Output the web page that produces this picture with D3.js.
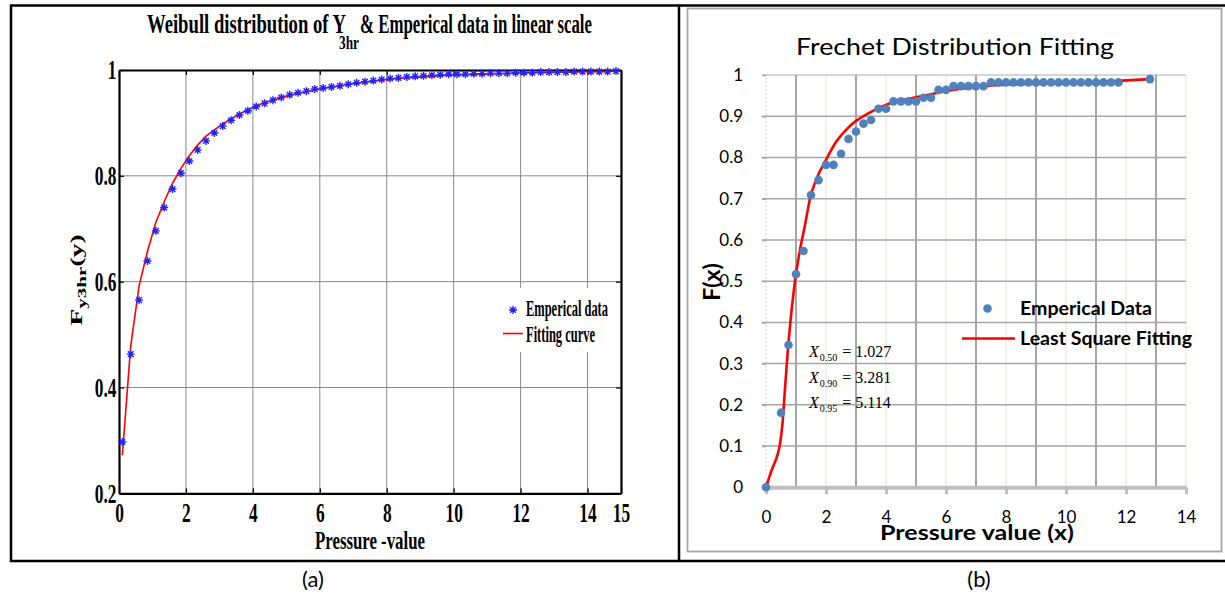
<!DOCTYPE html>
<html><head><meta charset="utf-8">
<script src="https://cdn.jsdelivr.net/npm/d3@7"></script>
<style>body{margin:0;background:#fff;} svg{display:block;}</style>
</head><body>
<script>
// ---------------- DATA ----------------
// (a) Weibull panel
const weibullX = [0.1,0.35,0.6,0.85,1.1,1.35,1.6,1.85,2.1,2.35,2.6,2.85,3.1,3.35,3.6,3.85,4.1,4.35,4.6,4.85,
  5.1,5.35,5.6,5.85,6.1,6.35,6.6,6.85,7.1,7.35,7.6,7.85,8.1,8.35,8.6,8.85,9.1,9.35,9.6,9.85,
  10.1,10.35,10.6,10.85,11.1,11.35,11.6,11.85,12.1,12.35,12.6,12.85,13.1,13.35,13.6,13.85,14.1,14.35,14.6,14.85];
const weibullEmp = [0.297,0.463,0.565,0.639,0.696,0.740,0.775,0.805,0.828,0.849,0.866,0.881,0.894,0.905,0.915,0.923,0.931,0.937,0.943,0.948,
  0.953,0.957,0.960,0.964,0.966,0.968,0.970,0.973,0.976,0.978,0.980,0.982,0.984,0.985,0.987,0.988,0.989,0.990,0.991,0.992,
  0.992,0.992,0.993,0.993,0.994,0.994,0.994,0.995,0.995,0.995,0.996,0.996,0.996,0.996,0.997,0.997,0.997,0.997,0.997,0.998];
const weibullFit = [0.272,0.478,0.592,0.657,0.712,0.751,0.786,0.814,0.838,0.858,0.875,0.887,0.898,0.908,0.917,0.925,0.932,0.938,0.943,0.948,
  0.952,0.956,0.959,0.962,0.965,0.968,0.970,0.973,0.975,0.977,0.979,0.981,0.982,0.984,0.985,0.986,0.987,0.988,0.989,0.990,
  0.990,0.991,0.991,0.992,0.992,0.993,0.993,0.994,0.994,0.995,0.995,0.995,0.996,0.996,0.996,0.997,0.997,0.997,0.997,0.998];
const weibullXTicks = [0,2,4,6,8,10,12,14,15];
const weibullYTicks = [0.2,0.4,0.6,0.8,1];
const weibullXGrid = [2,4,6,8,10,12,14];
const weibullYGrid = [0.4,0.6,0.8];

// (b) Frechet panel
const frechetX = [0,0.5,0.75,1.0,1.25,1.5,1.75,2.0,2.25,2.5,2.75,3.0,3.25,3.5,3.75,4.0,4.25,4.5,4.75,5.0,
  5.25,5.5,5.75,6.0,6.25,6.5,6.75,7.0,7.25,7.5,7.75,8.0,8.25,8.5,8.75,9.0,9.25,9.5,9.75,10.0,
  10.25,10.5,10.75,11.0,11.25,11.5,11.75,12.8];
const frechetEmp = [0,0.181,0.345,0.517,0.573,0.709,0.745,0.782,0.782,0.809,0.845,0.863,0.882,0.891,0.918,0.918,0.936,0.936,0.936,0.936,
  0.945,0.945,0.964,0.964,0.973,0.973,0.973,0.973,0.973,0.982,0.982,0.982,0.982,0.982,0.982,0.982,0.982,0.982,0.982,0.982,
  0.982,0.982,0.982,0.982,0.982,0.982,0.982,0.990];
const frechetFitX = [0,0.19,0.38,0.47,0.55,0.63,0.72,0.82,0.93,1.02,1.13,1.3,1.47,1.69,2.0,2.3,2.63,2.97,3.41,3.97,5.08,6.08,7.44,9.1,10.66,12.02,12.8];
const frechetFitY = [0,0.042,0.078,0.107,0.155,0.236,0.325,0.406,0.479,0.527,0.575,0.636,0.701,0.749,0.794,0.834,0.864,0.887,0.907,0.927,0.947,0.962,0.974,0.979,0.982,0.987,0.990];
const frechetXTicks = [0,2,4,6,8,10,12,14];
const frechetYTicks = [0,0.1,0.2,0.3,0.4,0.5,0.6,0.7,0.8,0.9,1];
const frechetOddGrid = [1,3,5,7,9,11,13];
const frechetEvenGrid = [2,4,6,8,10,12,14];
const quantileSubs = ["0.50","0.90","0.95"];
const quantileVals = ["1.027","3.281","5.114"];

// ---------------- DRAW ----------------
const W = 1225, H = 596;
const svg = d3.select("body").append("svg").attr("width", W).attr("height", H);
svg.append("rect").attr("width", W).attr("height", H).attr("fill", "#fff");

const SERIF = "'Liberation Serif','Times New Roman',serif";
const SANS = "Lato,'Open Sans',sans-serif";
const SQ = 0.62; // horizontal squash of panel (a)

// table / frames
const frame = svg.append("g").attr("stroke", "#000").attr("fill", "none");
frame.append("line").attr("x1", 10).attr("x2", W).attr("y1", 5.5).attr("y2", 5.5).attr("stroke-width", 2.5);
frame.append("line").attr("x1", 10).attr("x2", W).attr("y1", 561).attr("y2", 561).attr("stroke-width", 2.5);
frame.append("line").attr("x1", 11).attr("x2", 11).attr("y1", 5).attr("y2", 562).attr("stroke-width", 2.5);
frame.append("line").attr("x1", 679).attr("x2", 679).attr("y1", 5).attr("y2", 562).attr("stroke-width", 2.5);
svg.append("rect").attr("x", 687.5).attr("y", 8.5).attr("width", 534).attr("height", 543)
  .attr("fill", "none").attr("stroke", "#a6a6a6").attr("stroke-width", 1.8);

// captions
svg.append("text").attr("x", 313).attr("y", 587).attr("text-anchor", "middle")
  .style("font-family", SANS).style("font-size", "22px").text("(a)");
svg.append("text").attr("x", 979).attr("y", 587).attr("text-anchor", "middle")
  .style("font-family", SANS).style("font-size", "22px").text("(b)");

// ===== Panel (a) =====
const gA = svg.append("g");
const xL = d3.scaleLinear().domain([0, 15]).range([119, 621]);
const yL = d3.scaleLinear().domain([0.2, 1]).range([493.3, 70]);

// gridlines
gA.append("g").selectAll("line").data(weibullXGrid).join("line")
  .attr("x1", d => xL(d)).attr("x2", d => xL(d)).attr("y1", yL(0.2)).attr("y2", yL(1))
  .attr("stroke", "#8a8a8a").attr("stroke-width", 1);
gA.append("g").selectAll("line").data(weibullYGrid).join("line")
  .attr("x1", xL(0)).attr("x2", xL(15)).attr("y1", d => yL(d)).attr("y2", d => yL(d))
  .attr("stroke", "#8a8a8a").attr("stroke-width", 1);

// legend background (hides gridlines)
gA.append("rect").attr("x", 497).attr("y", 288).attr("width", 122).attr("height", 64).attr("fill", "#fff");

function styleA(g) {
  g.select(".domain").attr("stroke", "#000").attr("stroke-width", 2.2);
  g.selectAll(".tick line").attr("stroke", "#000").attr("stroke-width", 1.2);
  g.selectAll("text").attr("fill", "#000").style("font-family", SERIF).style("font-weight", "bold")
    .style("font-size", "28px").attr("transform", `scale(${SQ},1)`);
}
gA.append("g").attr("transform", `translate(0,${yL(0.2)})`)
  .call(d3.axisBottom(xL).tickValues(weibullXTicks).tickFormat(d3.format("d")).tickSizeInner(-5).tickSizeOuter(0).tickPadding(9))
  .call(styleA);
gA.append("g").attr("transform", `translate(0,${yL(1)})`)
  .call(d3.axisTop(xL).tickValues(weibullXTicks).tickFormat("").tickSizeInner(-5).tickSizeOuter(0))
  .call(styleA);
gA.append("g").attr("transform", `translate(${xL(0)},0)`)
  .call(d3.axisLeft(yL).tickValues(weibullYTicks).tickFormat(d => d === 1 ? "1" : d3.format(".1f")(d)).tickSizeInner(-5).tickSizeOuter(0).tickPadding(4))
  .call(styleA);
gA.append("g").attr("transform", `translate(${xL(15)},0)`)
  .call(d3.axisRight(yL).tickValues(weibullYTicks).tickFormat("").tickSizeInner(-5).tickSizeOuter(0))
  .call(styleA);

// fitting curve
const weibullFitPts = weibullX.map((x, i) => [x, weibullFit[i]]);
gA.append("path").datum(weibullFitPts)
  .attr("d", d3.line().x(d => xL(d[0])).y(d => yL(d[1])))
  .attr("fill", "none").attr("stroke", "#ff0000").attr("stroke-width", 1.6);

// asterisk markers
const asteriskType = {
  draw(ctx, size) {
    const r = Math.sqrt(size) / 2, d = r * 0.7071;
    ctx.moveTo(-r, 0); ctx.lineTo(r, 0);
    ctx.moveTo(0, -r); ctx.lineTo(0, r);
    ctx.moveTo(-d, -d); ctx.lineTo(d, d);
    ctx.moveTo(-d, d); ctx.lineTo(d, -d);
  }
};
const star = d3.symbol().type(asteriskType).size(64);
const weibullEmpPts = weibullX.map((x, i) => [x, weibullEmp[i]]);
gA.append("g").selectAll("path").data(weibullEmpPts).join("path")
  .attr("transform", d => `translate(${xL(d[0])},${yL(d[1])})`)
  .attr("d", star).attr("fill", "none").attr("stroke", "#2323ff").attr("stroke-width", 1.4);

// legend (a)
gA.append("path").attr("transform", "translate(513,310)").attr("d", star)
  .attr("fill", "none").attr("stroke", "#2323ff").attr("stroke-width", 1.4);
gA.append("line").attr("x1", 503).attr("x2", 523).attr("y1", 333.5).attr("y2", 333.5)
  .attr("stroke", "#ff0000").attr("stroke-width", 1.6);
const legA = [["Emperical data", 316, 82], ["Fitting curve", 342, 69]];
legA.forEach(([t, y, len]) => {
  gA.append("text").attr("x", 526).attr("y", y).attr("textLength", len).attr("lengthAdjust", "spacingAndGlyphs")
    .style("font-family", SERIF).style("font-weight", "bold").style("font-size", "23px").text(t);
});

// title (a)
const titleA = [["Weibull distribution of Y", 147, 33, 199, 27], ["3hr", 339, 49, 20, 18], ["& Emperical data in linear scale", 360, 33, 232, 27]];
titleA.forEach(([t, x, y, len, fs]) => {
  gA.append("text").attr("x", x).attr("y", y).attr("textLength", len).attr("lengthAdjust", "spacingAndGlyphs")
    .style("font-family", SERIF).style("font-weight", "bold").style("font-size", fs + "px").text(t);
});
// x label (a)
gA.append("text").attr("x", 315).attr("y", 549).attr("textLength", 110).attr("lengthAdjust", "spacingAndGlyphs")
  .style("font-family", SERIF).style("font-weight", "bold").style("font-size", "25px").text("Pressure -value");
// y label (a)
const ylA = gA.append("text").attr("transform", `translate(82,280) scale(${SQ},1) rotate(-90)`)
  .attr("text-anchor", "middle").style("font-family", SERIF).style("font-weight", "bold").style("font-size", "28px");
ylA.append("tspan").text("F");
ylA.append("tspan").attr("dy", 7).style("font-size", "21px").text("y3hr");
ylA.append("tspan").attr("dy", -7).text("(y)");

// ===== Panel (b) =====
const gB = svg.append("g");
const xR = d3.scaleLinear().domain([0, 14]).range([766, 1186]);
const yR = d3.scaleLinear().domain([0, 1]).range([487.3, 75]);

// gridlines
gB.append("g").selectAll("line").data(frechetEvenGrid).join("line")
  .attr("x1", d => xR(d)).attr("x2", d => xR(d)).attr("y1", yR(0)).attr("y2", yR(1))
  .attr("stroke", "#ebe8dc").attr("stroke-width", 1.2);
gB.append("line").attr("x1", xR(0)).attr("x2", xR(0)).attr("y1", yR(0)).attr("y2", yR(1))
  .attr("stroke", "#d0d0d0").attr("stroke-width", 1).attr("stroke-dasharray", "2,2");
gB.append("g").selectAll("line").data(frechetYTicks.filter(d => d > 0)).join("line")
  .attr("x1", xR(0) - 4).attr("x2", xR(14)).attr("y1", d => yR(d)).attr("y2", d => yR(d))
  .attr("stroke", d => d === 1 ? "#c8c8c8" : "#a6a6a6").attr("stroke-width", 1.5);
gB.append("g").selectAll("line").data(frechetOddGrid).join("line")
  .attr("x1", d => xR(d)).attr("x2", d => xR(d)).attr("y1", yR(0)).attr("y2", yR(1))
  .attr("stroke", "#a6a6a6").attr("stroke-width", 2);

// axes
gB.append("g").attr("transform", `translate(0,${yR(0)})`)
  .call(d3.axisBottom(xR).tickValues(frechetXTicks).tickSizeInner(7).tickSizeOuter(0).tickPadding(17))
  .call(g => {
    g.select(".domain").attr("stroke", "#bfbfbf").attr("stroke-width", 4);
    g.selectAll(".tick line").attr("stroke", "#bfbfbf").attr("stroke-width", 3);
    g.selectAll("text").attr("fill", "#000").style("font-family", SANS).style("font-size", "17px");
  });
gB.append("g").attr("transform", `translate(${xR(0)},0)`)
  .call(d3.axisLeft(yR).tickValues(frechetYTicks).tickFormat(d => (d === 0 || d === 1) ? String(d) : d3.format(".1f")(d)).tickSizeInner(4).tickSizeOuter(0).tickPadding(19))
  .call(g => {
    g.select(".domain").remove();
    g.selectAll(".tick line").attr("stroke", "#a6a6a6").attr("stroke-width", 1.5);
    g.selectAll("text").attr("fill", "#000").style("font-family", SANS).style("font-size", "17px");
  });

// fit curve
const frechetFitPts = frechetFitX.map((x, i) => [x, frechetFitY[i]]);
gB.append("path").datum(frechetFitPts)
  .attr("d", d3.line().x(d => xR(d[0])).y(d => yR(d[1])).curve(d3.curveMonotoneX))
  .attr("fill", "none").attr("stroke", "#ff0000").attr("stroke-width", 2.6);

// empirical points
const frechetPts = frechetX.map((x, i) => [x, frechetEmp[i]]);
gB.append("g").selectAll("circle").data(frechetPts).join("circle")
  .attr("cx", d => xR(d[0])).attr("cy", d => yR(d[1])).attr("r", 4.3).attr("fill", "#4f81bd");

// title (b)
gB.append("text").attr("x", 796).attr("y", 54.5).attr("textLength", 318).attr("lengthAdjust", "spacingAndGlyphs")
  .style("font-family", SANS).style("font-size", "24px").text("Frechet Distribution Fitting");
// axis titles (b)
gB.append("text").attr("x", 880).attr("y", 540).attr("textLength", 194).attr("lengthAdjust", "spacingAndGlyphs")
  .style("font-family", SANS).style("font-weight", "bold").style("font-size", "21px").text("Pressure value (x)");
gB.append("text").attr("transform", "translate(720,282) rotate(-90)").attr("text-anchor", "middle")
  .style("font-family", SANS).style("font-weight", "bold").style("font-size", "23px").text("F(x)");

// legend (b)
gB.append("circle").attr("cx", 987.5).attr("cy", 308.5).attr("r", 4.3).attr("fill", "#4f81bd");
gB.append("line").attr("x1", 962).attr("x2", 1015).attr("y1", 338.5).attr("y2", 338.5)
  .attr("stroke", "#ff0000").attr("stroke-width", 2.6);
[["Emperical Data", 314.5, 132], ["Least Square Fitting", 344.5, 172]].forEach(([t, y, len]) => {
  gB.append("text").attr("x", 1020).attr("y", y).attr("textLength", len).attr("lengthAdjust", "spacingAndGlyphs")
    .style("font-family", SANS).style("font-weight", "bold").style("font-size", "19px").text(t);
});

// quantile annotations
const qBase = [356.7, 382.7, 407.7];
quantileSubs.forEach((s, i) => {
  const t = gB.append("text").attr("x", 809).attr("y", qBase[i])
    .style("font-family", SERIF).style("font-size", "16px").attr("fill", "#000");
  t.append("tspan").style("font-style", "italic").text("X");
  t.append("tspan").attr("dy", 4).attr("dx", 1).style("font-size", "10px").text(s);
  t.append("tspan").attr("dy", -4).attr("dx", 5).text("= " + quantileVals[i]);
});
</script>
</body></html>
